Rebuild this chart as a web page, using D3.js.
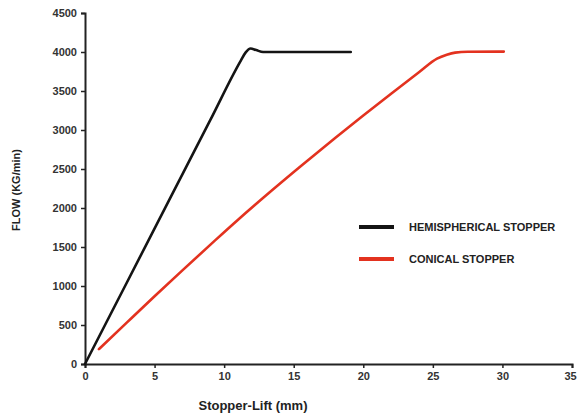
<!DOCTYPE html>
<html><head><meta charset="utf-8">
<script src="https://cdn.jsdelivr.net/npm/d3@7/dist/d3.min.js"></script>
<style>body{margin:0;background:#fff}svg{display:block}text{font-family:"Liberation Sans",Arial,sans-serif}</style>
</head><body><svg id="c" width="577" height="419"></svg>
<script>
const xTicks = [0,5,10,15,20,25,30,35];
const yTicks = [0,500,1000,1500,2000,2500,3000,3500,4000,4500];
const seriesNames = ["HEMISPHERICAL STOPPER","CONICAL STOPPER"];
const hemiX = [0,3,6,9,11.2,11.55,11.9,12.3,12.8,16,19.1];
const hemiY = [0,1042,2084,3126,3890,3995,4045,4025,4000,4000,4000];
const conX = [1,3,5,7,9.35,11,13,15.5,18,20,22,24,25.3,26.0,26.6,27.5,30.1];
const conY = [190,530,868,1200,1585,1850,2160,2535,2900,3185,3465,3740,3915,3965,3992,4003,4005];
const colors = ["#141414","#e3321f"];

const svg = d3.select("#c");
const x = d3.scaleLinear().domain([0,35]).range([85,572]);
const y = d3.scaleLinear().domain([0,4500]).range([364,13]);

const xa = svg.append("g").attr("transform","translate(0,364)")
  .call(d3.axisBottom(x).tickValues(xTicks).tickFormat(d3.format("d")).tickSize(4).tickPadding(4));
const ya = svg.append("g").attr("transform","translate(85,0)")
  .call(d3.axisLeft(y).tickValues(yTicks).tickFormat(d3.format("d")).tickSize(4).tickPadding(4));
[xa,ya].forEach(a=>{
  a.select(".domain").attr("stroke","#222").attr("stroke-width",2);
  a.selectAll(".tick line").attr("stroke","#222").attr("stroke-width",1.5);
  a.selectAll(".tick text").attr("fill","#333").attr("font-size",11).attr("font-weight","bold");
});
xa.selectAll(".tick text").filter(d=>d===35).attr("dx",-2);

const line = d3.line().x(d=>x(d[0])).y(d=>y(d[1])).curve(d3.curveMonotoneX);
const data = [hemiX.map((v,i)=>[v,hemiY[i]]), conX.map((v,i)=>[v,conY[i]])];
data.forEach((d,i)=>{
  svg.append("path").datum(d).attr("d",line).attr("fill","none")
    .attr("stroke",colors[i]).attr("stroke-width",2.6).attr("stroke-linecap","round");
});

svg.append("text").attr("x",253).attr("y",410).attr("text-anchor","middle")
  .attr("font-size",13).attr("font-weight","bold").attr("fill","#222").text("Stopper-Lift (mm)");
svg.append("text").attr("transform","translate(20,190) rotate(-90)").attr("text-anchor","middle")
  .attr("font-size",11).attr("font-weight","bold").attr("fill","#222").text("FLOW (KG/min)");

seriesNames.forEach((n,i)=>{
  const ly = 227 + i*32;
  svg.append("line").attr("x1",359).attr("x2",394).attr("y1",ly).attr("y2",ly)
    .attr("stroke",colors[i]).attr("stroke-width",4);
  svg.append("text").attr("x",409).attr("y",ly+4).attr("font-size",11).attr("font-weight","bold")
    .attr("fill","#222").text(n);
});
</script></body></html>
